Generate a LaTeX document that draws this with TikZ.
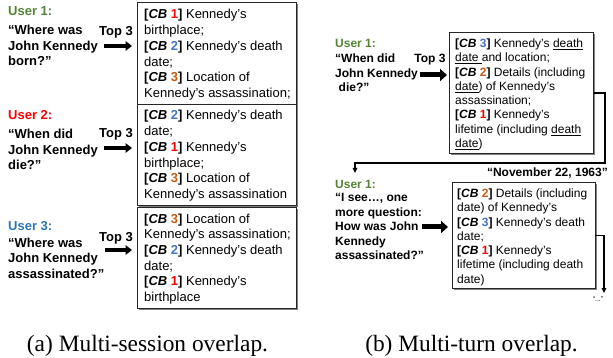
\documentclass[tikz,border=0pt]{standalone}
\usepackage{fontspec}
\setmainfont{Liberation Sans}
\newfontfamily\capfont{Liberation Serif}
\usetikzlibrary{arrows.meta,shadows,calc}
\definecolor{ugreen}{HTML}{548235}
\definecolor{ured}{HTML}{FF0000}
\definecolor{ublue}{HTML}{2E75B6}
\definecolor{cbblue}{HTML}{4472C4}
\definecolor{cborange}{HTML}{C55A11}
\newcommand{\cbA}{\textbf{[\textit{CB} \textcolor{ured}{1}]}}
\newcommand{\cbB}{\textbf{[\textit{CB} \textcolor{cbblue}{2}]}}
\newcommand{\cbC}{\textbf{[\textit{CB} \textcolor{cborange}{3}]}}
\newcommand{\cbBo}{\textbf{[\textit{CB} \textcolor{cborange}{2}]}}
\newcommand{\cbCb}{\textbf{[\textit{CB} \textcolor{cbblue}{3}]}}
\begin{document}
\begin{tikzpicture}[x=1pt,y=-1pt,
  cbbox/.style={draw=black!85, line width=0.9pt, fill=white,
    drop shadow={shadow xshift=1.4pt,shadow yshift=-1.4pt,fill=black!50,opacity=1},
    inner sep=0pt, anchor=north west},
  cbtextL/.style={anchor=base west, inner sep=0pt, align=left, font=\fontsize{13}{15.7}\selectfont},
  cbtextR/.style={anchor=base west, inner sep=0pt, align=left, font=\fontsize{12}{14.3}\selectfont},
  usrL/.style={anchor=base west, inner sep=0pt, font=\bfseries\fontsize{13}{15.5}\selectfont},
  qL/.style={anchor=base west, inner sep=0pt, align=left, font=\bfseries\fontsize{13}{15.5}\selectfont},
  usrR/.style={anchor=base west, inner sep=0pt, font=\bfseries\fontsize{12}{15}\selectfont},
  qR/.style={anchor=base west, inner sep=0pt, align=left, font=\bfseries\fontsize{12}{14.6}\selectfont},
  topL/.style={inner sep=0pt, font=\bfseries\fontsize{13}{15}\selectfont},
  topR/.style={inner sep=0pt, font=\bfseries\fontsize{12}{14}\selectfont},
  bigarrowL/.style={line width=3.6pt, -{Triangle[length=6.5pt,width=9.5pt]}},
  bigarrowR/.style={line width=5pt, -{Triangle[length=7pt,width=12pt]}},
  conn/.style={line width=1.3pt, -{Triangle[length=5pt,width=4.5pt]}},
  captext/.style={anchor=base, inner sep=0pt, font=\capfont\fontsize{23.4}{28}\selectfont}
]
\useasboundingbox (0,0) rectangle (613,358);

% ---------- (a) left panel ----------
\node[cbbox, minimum width=159pt, minimum height=102pt] (b1) at (137,2) {};
\node[cbbox, minimum width=159pt, minimum height=101pt] (b2) at (137,104) {};
\node[cbbox, minimum width=159pt, minimum height=101pt] (b3) at (137,207) {};

% anchor base = baseline of the last line
\node[cbtextL] (t1) at (144,97.5) {\cbA\ Kennedy’s\\birthplace;\\\cbB\ Kennedy’s death\\date;\\\cbC\ Location of\\Kennedy’s assassination;};
\node[cbtextL] (t2) at (144,198.5) {\cbB\ Kennedy’s death\\date;\\\cbA\ Kennedy’s\\birthplace;\\\cbC\ Location of\\Kennedy’s assassination};
\node[cbtextL] (t3) at (144,301.5) {\cbC\ Location of\\Kennedy’s assassination;\\\cbB\ Kennedy’s death\\date;\\\cbA\ Kennedy’s\\birthplace};

\node[usrL, text=ugreen] (u1) at (8,16) {User 1:};
\node[qL] (q1) at (8,66) {“Where was\\John Kennedy\\born?”};
\node[usrL, text=ured] (u2) at (8,120) {User 2:};
\node[qL] (q2) at (8,170) {“When did\\John Kennedy\\die?”};
\node[usrL, text=ublue] (u3) at (8,230) {User 3:};
\node[qL] (q3) at (8,278) {“Where was\\John Kennedy\\assassinated?”};

\node[topL] (k1) at (116,32) {Top 3};
\node[topL] (k2) at (116,134) {Top 3};
\node[topL] (k3) at (116,238) {Top 3};

\coordinate (a1) at (104,46);
\coordinate (a2) at (104,148);
\coordinate (a3) at (105,250);
\draw[bigarrowL, shorten >=5pt] (a1) -- (b1.west |- a1);
\draw[bigarrowL, shorten >=5pt] (a2) -- (b2.west |- a2);
\draw[bigarrowL, shorten >=5pt] (a3) -- (b3.west |- a3);

% ---------- (b) right panel ----------
\node[cbbox, minimum width=144pt, minimum height=121pt] (rb1) at (449,32) {};
\node[cbbox, minimum width=143pt, minimum height=106pt] (rb2) at (452,182) {};

\node[cbtextR] (rt1) at (455,147.6) {\cbCb\ Kennedy’s \underline{death}\\\underline{date\ }and location;\\\cbBo\ Details (including\\\underline{date}) of Kennedy’s\\assassination;\\\cbA\ Kennedy’s\\lifetime (including \underline{death}\\\underline{date})};
\node[cbtextR] (rt2) at (457,283.3) {\cbBo\ Details (including\\date) of Kennedy’s\\\cbCb\ Kennedy’s death\\date;\\\cbA\ Kennedy’s\\lifetime (including death\\date)};

\node[usrR, text=ugreen] (ru1) at (335,47.5) {User 1:};
\node[qR] (rq1) at (335,91.7) {“When did\\John Kennedy\\\hspace*{3.5pt}die?”};
\node[topR] (rk1) at (430,60) {Top 3};
\coordinate (ra1) at (420,75);
\draw[bigarrowR, shorten >=2pt] (ra1) -- (rb1.west |- ra1);

\node[usrR, text=ugreen] (ru2) at (335,189) {User 1:};
\node[qR] (rq2) at (335,259.9) {“I see…, one\\more question:\\How was John\\Kennedy\\assassinated?”};
\coordinate (ra2) at (422,227);
\draw[bigarrowR, shorten >=4pt] (ra2) -- (rb2.west |- ra2);

\coordinate (turn1) at (605,163);
\coordinate (end1) at (355,173);
\draw[conn] (rb1.east) -| (turn1) -| (end1);
\node[anchor=base east, inner sep=0pt, font=\bfseries\fontsize{12}{14}\selectfont] (nov) at (608,177) {“November 22, 1963”};

\coordinate (end2) at (604,293);
\draw[conn] (rb2.east) -| (end2);
\node[inner sep=0pt, font=\fontsize{7}{8}\selectfont] (dots) at (598,299) {“...”};

% ---------- captions ----------
\node[captext] (ca) at (147.5,351) {(a) Multi-session overlap.};
\node[captext] (cb) at (471.5,351) {(b) Multi-turn overlap.};
\end{tikzpicture}
\end{document}
